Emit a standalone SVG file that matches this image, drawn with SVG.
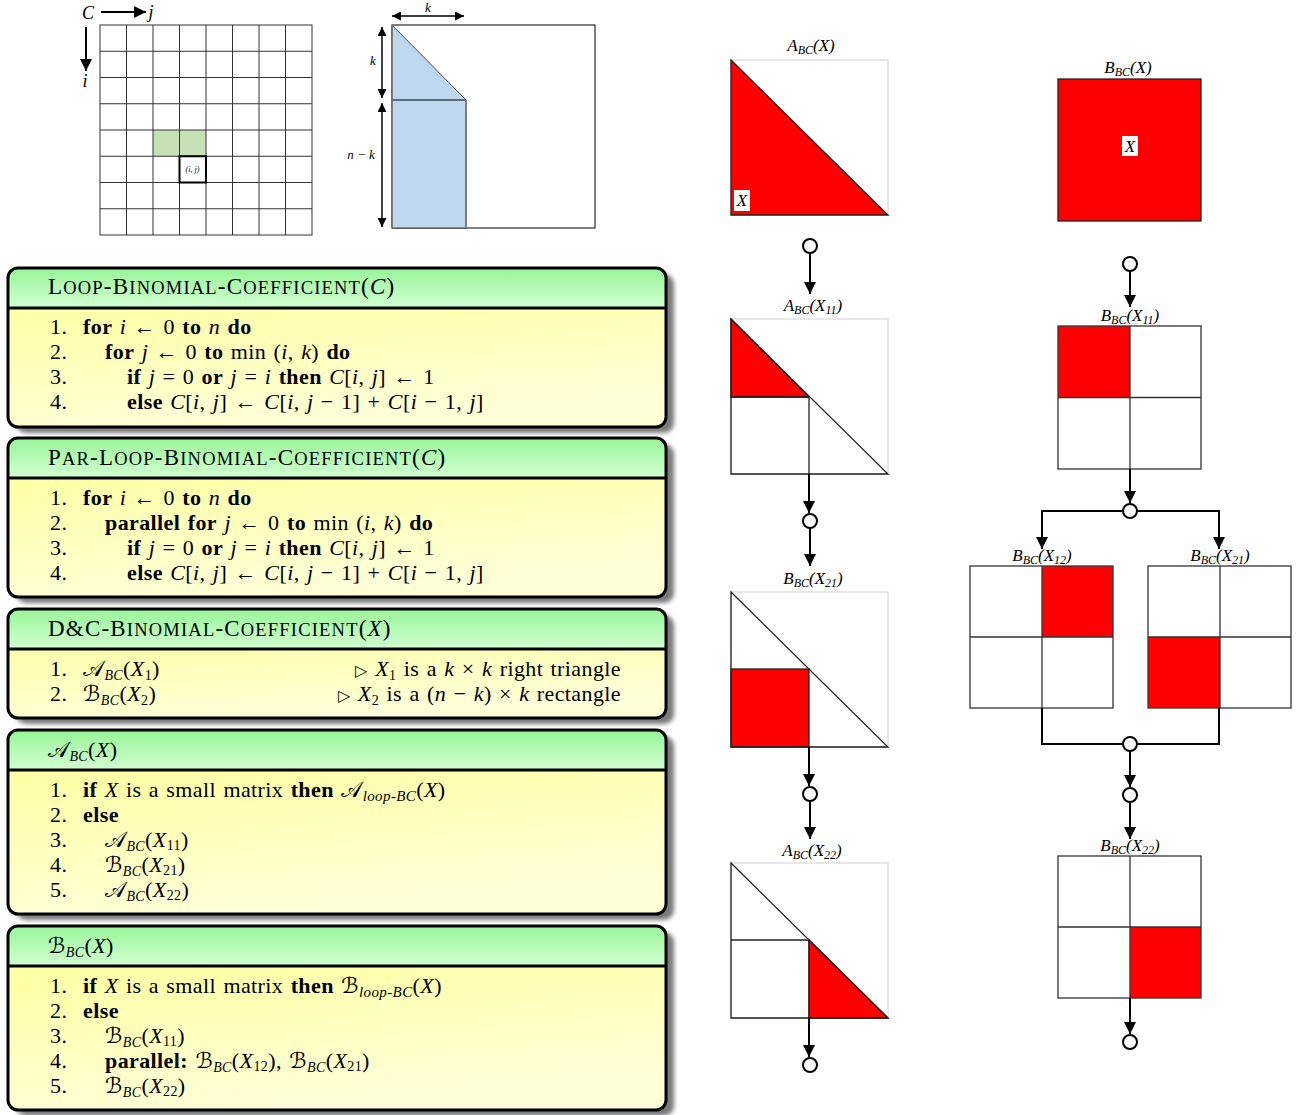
<svg xmlns="http://www.w3.org/2000/svg" width="1297" height="1115" viewBox="0 0 1297 1115">
<style>
.t{font-family:"Liberation Serif",serif;font-size:22px;fill:#000;word-spacing:1.5px;letter-spacing:0.4px}
.h{font-family:"Liberation Serif",serif;font-size:23px;fill:#000;letter-spacing:1.2px}
.b{font-weight:bold}
.i{font-style:italic}
.s{font-size:18.5px}
.cal{font-family:"DejaVu Serif","DejaVu Sans","Noto Sans",serif;font-style:normal}
.lbl{font-family:"Liberation Serif",serif;font-style:italic;font-size:17px;fill:#000}
.hdr{fill:url(#gh)}
.body{fill:url(#gb)}
.frame{fill:none;stroke:#000;stroke-width:3}
.shadow{fill:#7a7a7a;filter:url(#blur)}
.grid{stroke:#333;stroke-width:1;fill:none}
.con{stroke:#000;stroke-width:2;fill:none}
.arr{stroke:#000;stroke-width:2;fill:none;marker-end:url(#ah)}
.dbl{stroke:#000;stroke-width:1.5;fill:none;marker-end:url(#ah2);marker-start:url(#ah2)}
.node{fill:#fff;stroke:#000;stroke-width:2}
.outline{fill:none;stroke:#d0d0d0;stroke-width:1}
.blk{fill:none;stroke:#222;stroke-width:1.3}
.red{fill:#ff0000;stroke:#222;stroke-width:1.3}
.sq{fill:none;stroke:#333;stroke-width:1.3}
</style>
<defs>
<linearGradient id="gh" x1="0" y1="0" x2="0" y2="1"><stop offset="0" stop-color="#98f598"/><stop offset="1" stop-color="#d2ffd2"/></linearGradient>
<linearGradient id="gb" x1="0" y1="0" x2="0.3" y2="1"><stop offset="0" stop-color="#ffff96"/><stop offset="1" stop-color="#ffffd8"/></linearGradient>
<filter id="blur" x="-5%" y="-5%" width="110%" height="120%"><feGaussianBlur stdDeviation="2"/></filter>
<marker id="ah" viewBox="0 0 10 10" refX="10" refY="5" markerWidth="6" markerHeight="6" orient="auto" markerUnits="strokeWidth"><path d="M0,0 L10,5 L0,10 z" fill="#000"/></marker>
<marker id="ah2" viewBox="0 0 10 10" refX="10" refY="5" markerWidth="6" markerHeight="6" orient="auto-start-reverse" markerUnits="strokeWidth"><path d="M0,0 L10,5 L0,10 z" fill="#000"/></marker>
</defs>

<!-- Top-left grid -->
<g id="grid-C">
<rect x="153" y="130" width="53" height="26.25" fill="#c5e0b4"/>
<rect x="100" y="25" width="212" height="210" class="grid"/>
<path class="grid" d="M126.5,25V235M153,25V235M179.5,25V235M206,25V235M232.5,25V235M259,25V235M285.5,25V235M100,51.25H312M100,77.5H312M100,103.75H312M100,130H312M100,156.25H312M100,182.5H312M100,208.75H312"/>
<rect x="179.5" y="156.25" width="26.5" height="26.25" fill="none" stroke="#000" stroke-width="2"/>
<text x="192.5" y="172" font-family="Liberation Serif,serif" font-style="italic" font-size="8" text-anchor="middle">(i, j)</text>
<text x="88" y="19" font-family="Liberation Serif,serif" font-style="italic" font-size="18" text-anchor="middle">C</text>
<line x1="101" y1="12" x2="146" y2="12" class="con" stroke-width="1.5" marker-end="url(#ah)"/>
<text x="151" y="18" font-family="Liberation Serif,serif" font-style="italic" font-size="18" text-anchor="middle">j</text>
<line x1="86" y1="27" x2="86" y2="71" class="con" stroke-width="1.5" marker-end="url(#ah)"/>
<text x="85" y="87" font-family="Liberation Serif,serif" font-style="italic" font-size="18" text-anchor="middle">i</text>
</g>

<!-- Top middle diagram -->
<g id="shape-nk">
<rect x="392" y="25" width="203" height="203" fill="none" stroke="#000" stroke-width="1"/>
<polygon points="392,25 466,100 466,228 392,228" fill="#bdd7ee" stroke="#444" stroke-width="1"/>
<line x1="392" y1="100" x2="466" y2="100" stroke="#000" stroke-width="1"/>
<line x1="392" y1="25" x2="392" y2="228" stroke="#777" stroke-width="1.5"/>
<line x1="466" y1="100" x2="466" y2="228" stroke="#777" stroke-width="1.5"/>
<line x1="392" y1="16" x2="464" y2="16" class="dbl"/>
<text x="428" y="12" font-family="Liberation Serif,serif" font-style="italic" font-size="13" text-anchor="middle">k</text>
<line x1="382" y1="27" x2="382" y2="98" class="dbl"/>
<text x="373" y="65" font-family="Liberation Serif,serif" font-style="italic" font-size="13" text-anchor="middle">k</text>
<line x1="382" y1="103" x2="382" y2="227" class="dbl"/>
<text x="361" y="159" font-family="Liberation Serif,serif" font-style="italic" font-size="13" text-anchor="middle">n − k</text>
</g>

<!-- Box 1 -->
<g id="box-loop">
<rect x="16" y="274" width="658" height="159" rx="10" class="shadow"/>
<rect x="8" y="268" width="658" height="159" rx="10" class="body"/>
<path d="M8,308V278Q8,268 18,268H656Q666,268 666,278V308Z" class="hdr"/>
<line x1="8" y1="308" x2="666" y2="308" stroke="#000" stroke-width="3"/>
<rect x="8" y="268" width="658" height="159" rx="10" class="frame"/>
<text class="h" x="48" y="294">L<tspan class="s">OOP</tspan>-B<tspan class="s">INOMIAL</tspan>-C<tspan class="s">OEFFICIENT</tspan>(<tspan class="i">C</tspan>)</text>
<text class="t" x="50" y="334">1.</text>
<text class="t" x="83" y="334"><tspan class="b">for</tspan> <tspan class="i">i</tspan> ← 0 <tspan class="b">to</tspan> <tspan class="i">n</tspan> <tspan class="b">do</tspan></text>
<text class="t" x="50" y="359">2.</text>
<text class="t" x="105" y="359"><tspan class="b">for</tspan> <tspan class="i">j</tspan> ← 0 <tspan class="b">to</tspan> min (<tspan class="i">i</tspan>, <tspan class="i">k</tspan>) <tspan class="b">do</tspan></text>
<text class="t" x="50" y="384">3.</text>
<text class="t" x="127" y="384"><tspan class="b">if</tspan> <tspan class="i">j</tspan> = 0 <tspan class="b">or</tspan> <tspan class="i">j</tspan> = <tspan class="i">i</tspan> <tspan class="b">then</tspan> <tspan class="i">C</tspan>[<tspan class="i">i</tspan>, <tspan class="i">j</tspan>] ← 1</text>
<text class="t" x="50" y="409">4.</text>
<text class="t" x="127" y="409"><tspan class="b">else</tspan> <tspan class="i">C</tspan>[<tspan class="i">i</tspan>, <tspan class="i">j</tspan>] ← <tspan class="i">C</tspan>[<tspan class="i">i</tspan>, <tspan class="i">j</tspan> − 1] + <tspan class="i">C</tspan>[<tspan class="i">i</tspan> − 1, <tspan class="i">j</tspan>]</text>
</g>

<!-- Box 2 -->
<g id="box-parloop">
<rect x="16" y="444" width="658" height="159" rx="10" class="shadow"/>
<rect x="8" y="438" width="658" height="159" rx="10" class="body"/>
<path d="M8,478V448Q8,438 18,438H656Q666,438 666,448V478Z" class="hdr"/>
<line x1="8" y1="478" x2="666" y2="478" stroke="#000" stroke-width="3"/>
<rect x="8" y="438" width="658" height="159" rx="10" class="frame"/>
<text class="h" x="48" y="465">P<tspan class="s">AR</tspan>-L<tspan class="s">OOP</tspan>-B<tspan class="s">INOMIAL</tspan>-C<tspan class="s">OEFFICIENT</tspan>(<tspan class="i">C</tspan>)</text>
<text class="t" x="50" y="505">1.</text>
<text class="t" x="83" y="505"><tspan class="b">for</tspan> <tspan class="i">i</tspan> ← 0 <tspan class="b">to</tspan> <tspan class="i">n</tspan> <tspan class="b">do</tspan></text>
<text class="t" x="50" y="530">2.</text>
<text class="t" x="105" y="530"><tspan class="b">parallel for</tspan> <tspan class="i">j</tspan> ← 0 <tspan class="b">to</tspan> min (<tspan class="i">i</tspan>, <tspan class="i">k</tspan>) <tspan class="b">do</tspan></text>
<text class="t" x="50" y="555">3.</text>
<text class="t" x="127" y="555"><tspan class="b">if</tspan> <tspan class="i">j</tspan> = 0 <tspan class="b">or</tspan> <tspan class="i">j</tspan> = <tspan class="i">i</tspan> <tspan class="b">then</tspan> <tspan class="i">C</tspan>[<tspan class="i">i</tspan>, <tspan class="i">j</tspan>] ← 1</text>
<text class="t" x="50" y="580">4.</text>
<text class="t" x="127" y="580"><tspan class="b">else</tspan> <tspan class="i">C</tspan>[<tspan class="i">i</tspan>, <tspan class="i">j</tspan>] ← <tspan class="i">C</tspan>[<tspan class="i">i</tspan>, <tspan class="i">j</tspan> − 1] + <tspan class="i">C</tspan>[<tspan class="i">i</tspan> − 1, <tspan class="i">j</tspan>]</text>
</g>

<!-- Box 3 -->
<g id="box-dc">
<rect x="16" y="615" width="658" height="109" rx="10" class="shadow"/>
<rect x="8" y="609" width="658" height="109" rx="10" class="body"/>
<path d="M8,649V619Q8,609 18,609H656Q666,609 666,619V649Z" class="hdr"/>
<line x1="8" y1="649" x2="666" y2="649" stroke="#000" stroke-width="3"/>
<rect x="8" y="609" width="658" height="109" rx="10" class="frame"/>
<text class="h" x="48" y="636">D&amp;C-B<tspan class="s">INOMIAL</tspan>-C<tspan class="s">OEFFICIENT</tspan>(<tspan class="i">X</tspan>)</text>
<text class="t" x="50" y="676">1.</text>
<text class="t" x="83" y="676"><tspan class="cal">𝒜</tspan><tspan class="i" font-size="14" dy="4">BC</tspan><tspan dy="-4">(</tspan><tspan class="i">X</tspan><tspan font-size="14" dy="4">1</tspan><tspan dy="-4">)</tspan></text>
<text class="t" x="621" y="676" text-anchor="end"><tspan font-size="16">▷</tspan> <tspan class="i">X</tspan><tspan font-size="14" dy="4">1</tspan><tspan dy="-4"> is a </tspan><tspan class="i">k</tspan> × <tspan class="i">k</tspan> right triangle</text>
<text class="t" x="50" y="701">2.</text>
<text class="t" x="83" y="701"><tspan class="cal">ℬ</tspan><tspan class="i" font-size="14" dy="4">BC</tspan><tspan dy="-4">(</tspan><tspan class="i">X</tspan><tspan font-size="14" dy="4">2</tspan><tspan dy="-4">)</tspan></text>
<text class="t" x="621" y="701" text-anchor="end"><tspan font-size="16">▷</tspan> <tspan class="i">X</tspan><tspan font-size="14" dy="4">2</tspan><tspan dy="-4"> is a (</tspan><tspan class="i">n</tspan> − <tspan class="i">k</tspan>) × <tspan class="i">k</tspan> rectangle</text>
</g>

<!-- Box 4 -->
<g id="box-A">
<rect x="16" y="736" width="658" height="184" rx="10" class="shadow"/>
<rect x="8" y="730" width="658" height="184" rx="10" class="body"/>
<path d="M8,770V740Q8,730 18,730H656Q666,730 666,740V770Z" class="hdr"/>
<line x1="8" y1="770" x2="666" y2="770" stroke="#000" stroke-width="3"/>
<rect x="8" y="730" width="658" height="184" rx="10" class="frame"/>
<text class="t" x="48" y="757"><tspan class="cal">𝒜</tspan><tspan class="i" font-size="14" dy="4">BC</tspan><tspan dy="-4">(</tspan><tspan class="i">X</tspan>)</text>
<text class="t" x="50" y="797">1.</text>
<text class="t" x="83" y="797"><tspan class="b">if</tspan> <tspan class="i">X</tspan> is a small matrix <tspan class="b">then</tspan> <tspan class="cal">𝒜</tspan><tspan class="i" font-size="15" dy="4">loop-BC</tspan><tspan dy="-4">(</tspan><tspan class="i">X</tspan>)</text>
<text class="t" x="50" y="822">2.</text>
<text class="t b" x="83" y="822">else</text>
<text class="t" x="50" y="847">3.</text>
<text class="t" x="105" y="847"><tspan class="cal">𝒜</tspan><tspan class="i" font-size="14" dy="4">BC</tspan><tspan dy="-4">(</tspan><tspan class="i">X</tspan><tspan font-size="14" dy="3">11</tspan><tspan dy="-3">)</tspan></text>
<text class="t" x="50" y="872">4.</text>
<text class="t" x="105" y="872"><tspan class="cal">ℬ</tspan><tspan class="i" font-size="14" dy="4">BC</tspan><tspan dy="-4">(</tspan><tspan class="i">X</tspan><tspan font-size="14" dy="3">21</tspan><tspan dy="-3">)</tspan></text>
<text class="t" x="50" y="897">5.</text>
<text class="t" x="105" y="897"><tspan class="cal">𝒜</tspan><tspan class="i" font-size="14" dy="4">BC</tspan><tspan dy="-4">(</tspan><tspan class="i">X</tspan><tspan font-size="14" dy="3">22</tspan><tspan dy="-3">)</tspan></text>
</g>

<!-- Box 5 -->
<g id="box-B">
<rect x="16" y="932" width="658" height="184" rx="10" class="shadow"/>
<rect x="8" y="926" width="658" height="184" rx="10" class="body"/>
<path d="M8,966V936Q8,926 18,926H656Q666,926 666,936V966Z" class="hdr"/>
<line x1="8" y1="966" x2="666" y2="966" stroke="#000" stroke-width="3"/>
<rect x="8" y="926" width="658" height="184" rx="10" class="frame"/>
<text class="t" x="48" y="953"><tspan class="cal">ℬ</tspan><tspan class="i" font-size="14" dy="4">BC</tspan><tspan dy="-4">(</tspan><tspan class="i">X</tspan>)</text>
<text class="t" x="50" y="993">1.</text>
<text class="t" x="83" y="993"><tspan class="b">if</tspan> <tspan class="i">X</tspan> is a small matrix <tspan class="b">then</tspan> <tspan class="cal">ℬ</tspan><tspan class="i" font-size="15" dy="4">loop-BC</tspan><tspan dy="-4">(</tspan><tspan class="i">X</tspan>)</text>
<text class="t" x="50" y="1018">2.</text>
<text class="t b" x="83" y="1018">else</text>
<text class="t" x="50" y="1043">3.</text>
<text class="t" x="105" y="1043"><tspan class="cal">ℬ</tspan><tspan class="i" font-size="14" dy="4">BC</tspan><tspan dy="-4">(</tspan><tspan class="i">X</tspan><tspan font-size="14" dy="3">11</tspan><tspan dy="-3">)</tspan></text>
<text class="t" x="50" y="1068">4.</text>
<text class="t" x="105" y="1068"><tspan class="b">parallel:</tspan> <tspan class="cal">ℬ</tspan><tspan class="i" font-size="14" dy="4">BC</tspan><tspan dy="-4">(</tspan><tspan class="i">X</tspan><tspan font-size="14" dy="3">12</tspan><tspan dy="-3">), </tspan><tspan class="cal">ℬ</tspan><tspan class="i" font-size="14" dy="4">BC</tspan><tspan dy="-4">(</tspan><tspan class="i">X</tspan><tspan font-size="14" dy="3">21</tspan><tspan dy="-3">)</tspan></text>
<text class="t" x="50" y="1093">5.</text>
<text class="t" x="105" y="1093"><tspan class="cal">ℬ</tspan><tspan class="i" font-size="14" dy="4">BC</tspan><tspan dy="-4">(</tspan><tspan class="i">X</tspan><tspan font-size="14" dy="3">22</tspan><tspan dy="-3">)</tspan></text>
</g>

<!-- Column A shapes -->
<g id="A-X">
<text class="lbl" x="811" y="51" text-anchor="middle">A<tspan font-size="12" dy="3">BC</tspan><tspan dy="-3">(X)</tspan></text>
<rect x="731" y="60" width="157" height="155" class="outline"/>
<polygon points="731,60 888,215 731,215" class="red"/>
<rect x="734" y="190" width="16" height="21" fill="#fff"/>
<text class="lbl" x="742" y="206" text-anchor="middle">X</text>
</g>
<g id="A-X11">
<text class="lbl" x="813" y="311" text-anchor="middle">A<tspan font-size="12" dy="3">BC</tspan><tspan dy="-3">(X</tspan><tspan font-size="12" dy="3">11</tspan><tspan dy="-3">)</tspan></text>
<rect x="731" y="319" width="157" height="155" class="outline"/>
<polygon points="731,319 809,397 731,397" class="red"/>
<polygon points="731,319 888,474 731,474" class="blk"/>
<path d="M731,397H809V474" class="blk"/>
</g>
<g id="B-X21a">
<text class="lbl" x="813" y="584" text-anchor="middle">B<tspan font-size="12" dy="3">BC</tspan><tspan dy="-3">(X</tspan><tspan font-size="12" dy="3">21</tspan><tspan dy="-3">)</tspan></text>
<rect x="731" y="592" width="157" height="155" class="outline"/>
<rect x="731" y="669" width="78" height="78" class="red"/>
<polygon points="731,592 888,747 731,747" class="blk"/>
</g>
<g id="A-X22">
<text class="lbl" x="812" y="856" text-anchor="middle">A<tspan font-size="12" dy="3">BC</tspan><tspan dy="-3">(X</tspan><tspan font-size="12" dy="3">22</tspan><tspan dy="-3">)</tspan></text>
<rect x="731" y="863" width="157" height="155" class="outline"/>
<polygon points="809,940 888,1018 809,1018" class="red"/>
<polygon points="731,863 888,1018 731,1018" class="blk"/>
<path d="M731,940H809V1018" class="blk"/>
</g>

<!-- Column B shapes -->
<g id="B-X">
<text class="lbl" x="1128" y="73" text-anchor="middle">B<tspan font-size="12" dy="3">BC</tspan><tspan dy="-3">(X)</tspan></text>
<rect x="1058" y="79" width="143" height="142" class="red"/>
<rect x="1122" y="136" width="16" height="20" fill="#fff"/>
<text class="lbl" x="1130" y="152" text-anchor="middle">X</text>
</g>
<g id="B-X11">
<text class="lbl" x="1130" y="321" text-anchor="middle">B<tspan font-size="12" dy="3">BC</tspan><tspan dy="-3">(X</tspan><tspan font-size="12" dy="3">11</tspan><tspan dy="-3">)</tspan></text>
<rect x="1058" y="326" width="72" height="71.5" fill="#ff0000"/>
<rect x="1058" y="326" width="143" height="143" class="sq"/>
<path d="M1130,326V469M1058,397.5H1201" class="sq"/>
</g>
<g id="B-X12">
<text class="lbl" x="1042" y="561" text-anchor="middle">B<tspan font-size="12" dy="3">BC</tspan><tspan dy="-3">(X</tspan><tspan font-size="12" dy="3">12</tspan><tspan dy="-3">)</tspan></text>
<rect x="1042" y="566" width="71" height="71" fill="#ff0000"/>
<rect x="970" y="566" width="143" height="142" class="sq"/>
<path d="M1042,566V708M970,637H1113" class="sq"/>
</g>
<g id="B-X21">
<text class="lbl" x="1220" y="561" text-anchor="middle">B<tspan font-size="12" dy="3">BC</tspan><tspan dy="-3">(X</tspan><tspan font-size="12" dy="3">21</tspan><tspan dy="-3">)</tspan></text>
<rect x="1148" y="637" width="72" height="71" fill="#ff0000"/>
<rect x="1148" y="566" width="143" height="142" class="sq"/>
<path d="M1220,566V708M1148,637H1291" class="sq"/>
</g>
<g id="B-X22">
<text class="lbl" x="1130" y="851" text-anchor="middle">B<tspan font-size="12" dy="3">BC</tspan><tspan dy="-3">(X</tspan><tspan font-size="12" dy="3">22</tspan><tspan dy="-3">)</tspan></text>
<rect x="1130" y="927" width="71" height="71" fill="#ff0000"/>
<rect x="1058" y="856" width="143" height="142" class="sq"/>
<path d="M1130,856V998M1058,927H1201" class="sq"/>
</g>

<!-- Connectors -->
<g id="connectors">
<line x1="810" y1="253" x2="810" y2="294" class="arr"/>
<line x1="809" y1="474" x2="809" y2="513" class="arr"/>
<line x1="810" y1="528" x2="810" y2="566" class="arr"/>
<line x1="809" y1="747" x2="809" y2="786" class="arr"/>
<line x1="810" y1="801" x2="810" y2="839" class="arr"/>
<line x1="809" y1="1018" x2="809" y2="1057" class="arr"/>
<line x1="1130" y1="271" x2="1130" y2="307" class="arr"/>
<line x1="1130" y1="469" x2="1130" y2="503" class="arr"/>
<path d="M1123,511H1042V549" class="arr"/>
<path d="M1137,511H1219V549" class="arr"/>
<path d="M1042,708V744H1123" class="con"/>
<path d="M1219,708V744H1137" class="con"/>
<line x1="1130" y1="751" x2="1130" y2="787" class="arr"/>
<line x1="1130" y1="802" x2="1130" y2="839" class="arr"/>
<line x1="1130" y1="998" x2="1130" y2="1034" class="arr"/>
<circle cx="810" cy="246" r="7" class="node"/>
<circle cx="810" cy="521" r="7" class="node"/>
<circle cx="810" cy="794" r="7" class="node"/>
<circle cx="810" cy="1065" r="7" class="node"/>
<circle cx="1130" cy="264" r="7" class="node"/>
<circle cx="1130" cy="511" r="7" class="node"/>
<circle cx="1130" cy="744" r="7" class="node"/>
<circle cx="1130" cy="795" r="7" class="node"/>
<circle cx="1130" cy="1042" r="7" class="node"/>
</g>
</svg>
